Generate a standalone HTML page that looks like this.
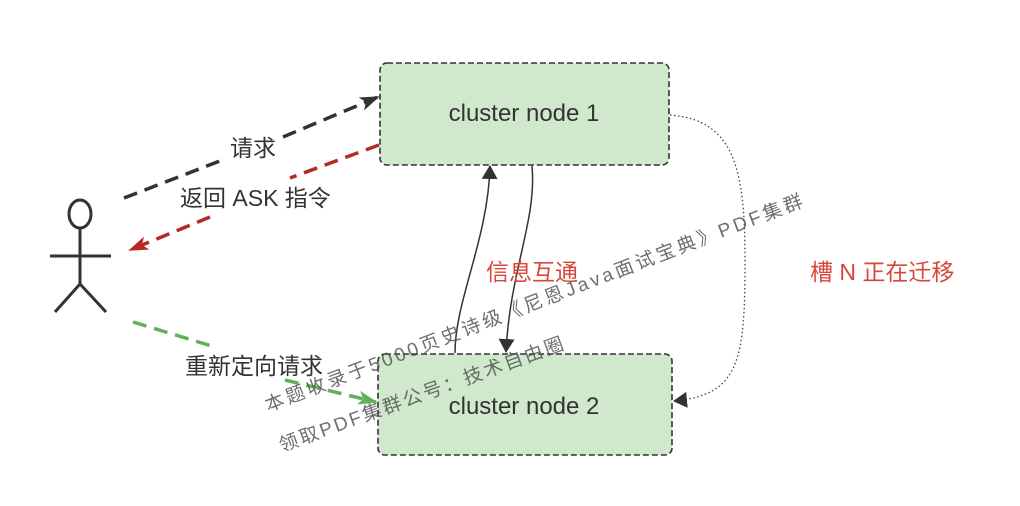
<!DOCTYPE html>
<html><head><meta charset="utf-8"><style>
html,body{margin:0;padding:0;background:#fff;}
svg text{font-family:"Liberation Sans","Noto Sans CJK SC",sans-serif;}
</style></head><body>
<svg width="1020" height="501" viewBox="0 0 1020 501" xmlns="http://www.w3.org/2000/svg">
<defs>
<marker id="ar" markerWidth="20" markerHeight="14" refX="18" refY="7" orient="auto" markerUnits="userSpaceOnUse"><path d="M0,0 L20,7 L0,14 L5,7 z" fill="#b52a26"/></marker>
<marker id="ak" markerWidth="20" markerHeight="14" refX="18" refY="7" orient="auto" markerUnits="userSpaceOnUse"><path d="M0,0 L20,7 L0,14 L5,7 z" fill="#333"/></marker>
<marker id="ag" markerWidth="20" markerHeight="14" refX="18" refY="7" orient="auto" markerUnits="userSpaceOnUse"><path d="M0,0 L20,7 L0,14 L5,7 z" fill="#63b05a"/></marker>
<marker id="am" markerWidth="14" markerHeight="16" refX="13" refY="8" orient="auto" markerUnits="userSpaceOnUse"><path d="M0,0 L14,8 L0,16 z" fill="#333"/></marker>
</defs>
<rect x="380" y="63" width="289" height="102" rx="7" fill="#d0e8cc" stroke="#333" stroke-width="1.6" stroke-dasharray="6,3"/>
<text x="524" y="121" font-size="24" text-anchor="middle" fill="#333">cluster node 1</text>
<rect x="378" y="354" width="294" height="101" rx="7" fill="#d0e8cc" stroke="#333" stroke-width="1.6" stroke-dasharray="6,3"/>
<text x="524" y="414" font-size="24" text-anchor="middle" fill="#333">cluster node 2</text>
<g stroke="#333" stroke-width="3" fill="none">
<ellipse cx="80" cy="214" rx="11" ry="14"/>
<line x1="80" y1="228" x2="80" y2="285"/>
<line x1="50" y1="256" x2="111" y2="256"/>
<line x1="80" y1="284" x2="55" y2="312"/>
<line x1="80" y1="284" x2="106" y2="312"/>
</g>
<path d="M124,198 L225,159" stroke="#333" stroke-width="3.5" stroke-dasharray="14,8" fill="none"/>
<path d="M283,137 L378,97" stroke="#333" stroke-width="3.5" stroke-dasharray="14,8" fill="none" marker-end="url(#ak)"/>
<text x="230" y="156" font-size="23" fill="#333">请求</text>
<path d="M379,145 L290,178" stroke="#b52a26" stroke-width="3.5" stroke-dasharray="14,8" fill="none"/>
<path d="M210,217 L130,250" stroke="#b52a26" stroke-width="3.5" stroke-dasharray="14,8" fill="none" marker-end="url(#ar)"/>
<text x="180" y="206" font-size="23" fill="#333">返回 ASK 指令</text>
<path d="M133,322 L215,347" stroke="#63b05a" stroke-width="3.5" stroke-dasharray="14,8" fill="none"/>
<path d="M285,380 L376,402" stroke="#63b05a" stroke-width="3.5" stroke-dasharray="14,8" fill="none" marker-end="url(#ag)"/>
<text x="185" y="374" font-size="23" fill="#333">重新定向请求</text>
<path d="M455,353 C455,300 488,240 490,166" stroke="#333" stroke-width="1.5" fill="none" marker-end="url(#am)"/>
<path d="M532,166 C537,220 510,270 506,352" stroke="#333" stroke-width="1.5" fill="none" marker-end="url(#am)"/>
<text x="486" y="280" font-size="23" fill="#d9473a">信息互通</text>
<path d="M670,115 C735,120 745,170 745,260 C745,360 740,395 674,401" stroke="#444" stroke-width="1.3" stroke-dasharray="1.5,2.5" fill="none" marker-end="url(#am)"/>
<text x="810" y="280" font-size="23" fill="#d9473a">槽 N 正在迁移</text>
<text x="268" y="412" font-size="19" letter-spacing="3.2" fill="#555" fill-opacity="0.85" transform="rotate(-21 268 412)" font-family="Liberation Mono,'Noto Sans CJK SC',monospace">本题收录于5000页史诗级《尼恩Java面试宝典》PDF集群</text>
<text x="282" y="452" font-size="19" letter-spacing="2.5" fill="#555" fill-opacity="0.85" transform="rotate(-20 282 452)" font-family="Liberation Mono,'Noto Sans CJK SC',monospace">领取PDF集群公号：技术自由圈</text>
</svg>
</body></html>
